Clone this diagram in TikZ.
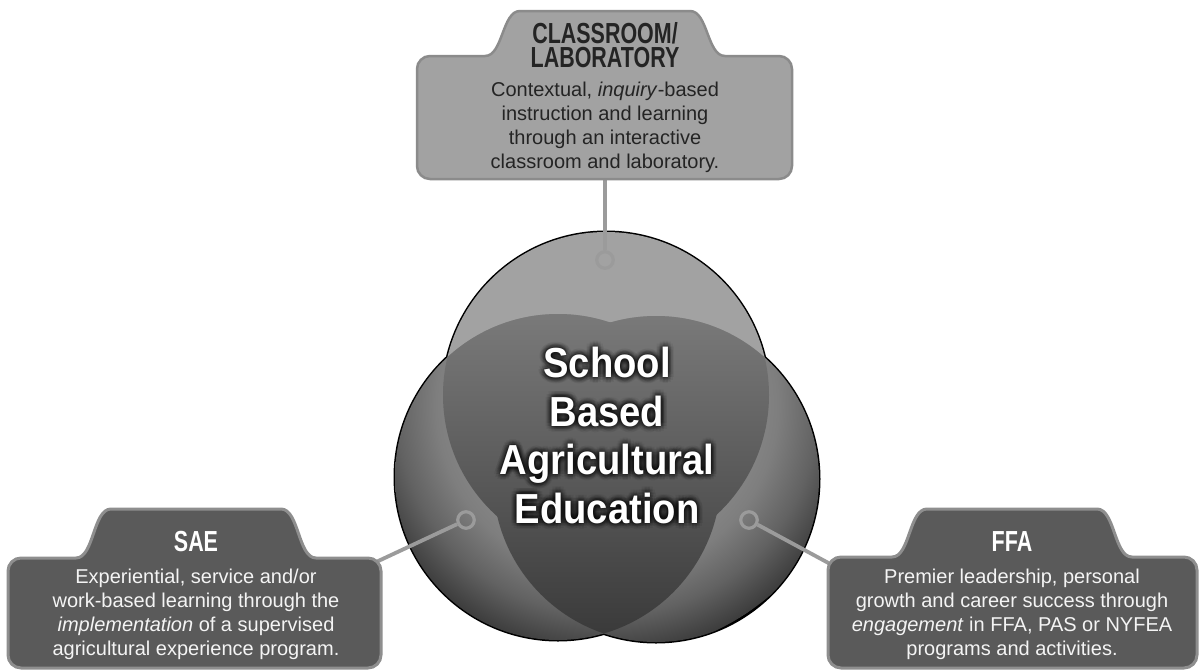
\documentclass[tikz,border=0pt]{standalone}
\usepackage{fontspec}
\setmainfont{Liberation Sans}
\newfontfamily\titlefont{Liberation Sans Bold}[FakeStretch=0.74]
\newfontfamily\centerfont{Liberation Sans Bold}[FakeStretch=0.91]
\usetikzlibrary{calc}
\definecolor{toplight}{HTML}{A2A2A2}
\definecolor{boxdark}{HTML}{5A5A5A}
\definecolor{boxdarkedge}{HTML}{8E8E8E}
\definecolor{boxlightedge}{HTML}{8B8B8B}
\definecolor{conncol}{HTML}{9B9B9B}
\definecolor{sideA}{HTML}{9A9A9A}
\definecolor{sideB}{HTML}{8E8E8E}
\definecolor{sideC}{HTML}{7E7E7E}
\definecolor{sideD}{HTML}{626262}
\definecolor{sideE}{HTML}{4A4A4A}
\definecolor{sideF}{HTML}{3C3C3C}
\definecolor{heartTop}{HTML}{7A7A7A}
\definecolor{heartMid}{HTML}{535353}
\definecolor{heartBot}{HTML}{383838}
\definecolor{darktext}{HTML}{242424}
\definecolor{lighttext}{HTML}{F4F4F4}
% radial shadings are fitted so that 25bp is the radius of the shaded circle
\pgfdeclareradialshading{sidecirc}{\pgfpoint{0bp}{0bp}}{color(0bp)=(sideA); color(12bp)=(sideB); color(17bp)=(sideC); color(21bp)=(sideD); color(23.5bp)=(sideE); color(25bp)=(sideF); color(50bp)=(sideF)}
% tab box: #1 style, #2 x0, #3 x1, #4 tab top, #5 main top, #6 bottom, #7 centre x
\newcommand{\tabbox}[7]{%
  \draw[#1] (#2,#5+13) arc[start angle=180,end angle=270,radius=13]
    -- ({#7-120},#5) .. controls ({#7-102},#5) and ({#7-103},#4) .. ({#7-85},#4)
    -- ({#7+85},#4) .. controls ({#7+103},#4) and ({#7+102},#5) .. ({#7+120},#5)
    -- (#3-13,#5) arc[start angle=270,end angle=360,radius=13]
    -- (#3,#6-13) arc[start angle=0,end angle=90,radius=13]
    -- (#2+13,#6) arc[start angle=90,end angle=180,radius=13] -- cycle;}
\begin{document}
\begin{tikzpicture}[x=1pt,y=-1pt,
  ring/.style={circle, draw=conncol, line width=3.2pt, minimum size=16.5pt, inner sep=0pt},
  conn/.style={draw=conncol, line width=3.8pt},
  lightbox/.style={fill=toplight, draw=boxlightedge, line width=2.5pt},
  darkbox/.style={fill=boxdark, draw=boxdarkedge, line width=3pt},
  titletxt/.style={anchor=base, align=center, font=\titlefont\fontsize{29}{24}\selectfont},
  bodytxt/.style={anchor=base, align=center, font=\fontsize{20}{24}\selectfont},
  centertxt/.style={anchor=base, align=center, font=\centerfont\fontsize{42}{48.5}\selectfont}]
\useasboundingbox[fill=white] (0,0) rectangle (1200,670);

% circle geometry
\coordinate (cT) at (606,395);
\coordinate (cL) at (558,477);
\coordinate (cR) at (656,479);
\def\rad{163}

% outer outline (inner halves get covered by the fills)
\draw[black, line width=3pt] (cT) circle (\rad) (cL) circle (\rad) (cR) circle (\rad);
% fills
\fill[toplight] (cT) circle (\rad);
\begin{scope}
  \clip (cL) circle (\rad);
  \shade[shading=sidecirc] (606,405) circle (250);
\end{scope}
\begin{scope}
  \clip (cR) circle (\rad);
  \shade[shading=sidecirc] (608,405) circle (250);
\end{scope}
% region covered by at least two circles
\begin{scope}
  \clip (cT) circle (\rad); \clip (cL) circle (\rad);
  \shade[top color=heartTop, middle color=heartMid, bottom color=heartBot] (380,312) rectangle (830,645);
\end{scope}
\begin{scope}
  \clip (cT) circle (\rad); \clip (cR) circle (\rad);
  \shade[top color=heartTop, middle color=heartMid, bottom color=heartBot] (380,312) rectangle (830,645);
\end{scope}
\begin{scope}
  \clip (cL) circle (\rad); \clip (cR) circle (\rad);
  \shade[top color=heartTop, middle color=heartMid, bottom color=heartBot] (380,312) rectangle (830,645);
\end{scope}

% centre title with dark glow
\foreach \a [count=\i] in {0,30,...,330}{
  \foreach \r in {1.5,3,4.5,6}{
    \node[centertxt, text=black, text opacity=0.05] (glow\i-\r) at ($(607,523)+(\a:\r)$)
      {School\\Based\\Agricultural\\Education};
  }
}
\node[centertxt, text=white] (centre) at (607,523) {School\\Based\\Agricultural\\Education};

% connectors
\node[ring] (ringT) at (605,260) {};
\node[ring] (ringL) at (466,520) {};
\node[ring] (ringR) at (749,520) {};
\coordinate (topA) at (605,178);
\coordinate (saeA) at (374,563);
\coordinate (ffaA) at (834,566);
\draw[conn] (ringT) -- (topA);
\draw[conn] (ringL) -- (saeA);
\draw[conn] (ringR) -- (ffaA);

% boxes
\tabbox{lightbox}{417}{792}{11}{56}{179}{605}
\tabbox{darkbox}{8}{381}{509}{558}{668}{196}
\tabbox{darkbox}{828}{1197}{509}{557}{668}{1012}

% box texts
\node[titletxt, text=darktext] (topTitle) at (605,67) {CLASSROOM/\\LABORATORY};
\node[bodytxt, text=darktext] (topBody) at (605,168)
  {Contextual, \textit{inquiry}-based\\instruction and learning\\through an interactive\\classroom and laboratory.};
\node[titletxt, text=white] (saeTitle) at (196,551) {SAE};
\node[bodytxt, text=lighttext] (saeBody) at (196,655)
  {Experiential, service and/or\\work-based learning through the\\\textit{implementation} of a supervised\\agricultural experience program.};
\node[titletxt, text=white] (ffaTitle) at (1012,551) {FFA};
\node[bodytxt, text=lighttext] (ffaBody) at (1012,655)
  {Premier leadership, personal\\growth and career success through\\\textit{engagement} in FFA, PAS or NYFEA\\programs and activities.};
\end{tikzpicture}
\end{document}
